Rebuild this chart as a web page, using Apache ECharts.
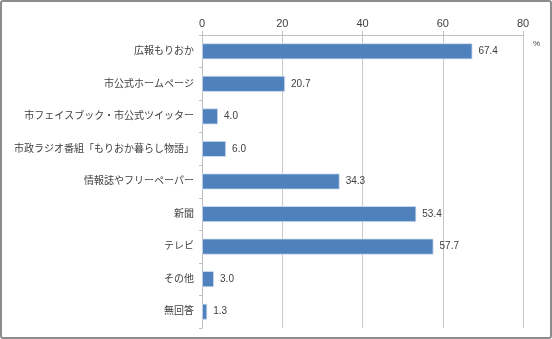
<!DOCTYPE html>
<html>
<head>
<meta charset="utf-8">
<script src="https://cdn.jsdelivr.net/npm/echarts@6/dist/echarts.min.js"></script>
<style>
  html, body { margin: 0; padding: 0; background: #fff; }
  #frame {
    width: 552px; height: 339px; box-sizing: border-box;
    border: 2px solid #8c8c8c; border-radius: 3px; background: #fff;
  }
  #chart { width: 548px; height: 335px; }
</style>
</head>
<body>
<div id="frame"><div id="chart"></div></div>
<script>
// Survey: where respondents get city information (multiple answers, %)
const categories = [
  '広報もりおか',
  '市公式ホームページ',
  '市フェイスブック・市公式ツイッター',
  '市政ラジオ番組「もりおか暮らし物語」',
  '情報誌やフリーペーパー',
  '新聞',
  'テレビ',
  'その他',
  '無回答'
];
const values = [67.4, 20.7, 4.0, 6.0, 34.3, 53.4, 57.7, 3.0, 1.3];
const axisTicks = [0, 20, 40, 60, 80];

const font = '"Liberation Sans", "Noto Sans CJK JP", sans-serif';
const chart = echarts.init(document.getElementById('chart'), null, { renderer: 'canvas' });

chart.setOption({
  animation: false,
  textStyle: { fontFamily: font },
  grid: { left: 200, right: 27, top: 33, bottom: 9, containLabel: false },
  xAxis: {
    type: 'value',
    position: 'top',
    min: axisTicks[0],
    max: axisTicks[axisTicks.length - 1],
    interval: axisTicks[1] - axisTicks[0],
    axisLine: { show: true, lineStyle: { color: '#bfbfbf', width: 1 } },
    axisTick: { show: true, length: 4, lineStyle: { color: '#bfbfbf' } },
    axisLabel: { color: '#404040', fontSize: 11, margin: 6, fontFamily: font },
    splitLine: { show: true, lineStyle: { color: '#c8c8c8', width: 1 } }
  },
  yAxis: {
    type: 'category',
    inverse: true,
    data: categories,
    axisLine: { show: true, lineStyle: { color: '#bfbfbf', width: 1 } },
    axisTick: { show: true, length: 3, lineStyle: { color: '#bfbfbf' } },
    axisLabel: { color: '#404040', fontSize: 10, margin: 8, fontFamily: font }
  },
  graphic: [{
    type: 'text',
    left: 531, top: 38,
    style: { text: '%', fill: '#404040', fontSize: 8, fontFamily: font }
  }],
  series: [{
    type: 'bar',
    data: values,
    barWidth: 16,
    itemStyle: { color: '#4f81bd', borderColor: '#d6e2f0', borderWidth: 0.8 },
    label: {
      show: true,
      position: 'right',
      distance: 6,
      color: '#404040',
      fontSize: 10,
      fontFamily: font,
      formatter: p => p.value.toFixed(1)
    }
  }]
});
</script>
</body>
</html>
